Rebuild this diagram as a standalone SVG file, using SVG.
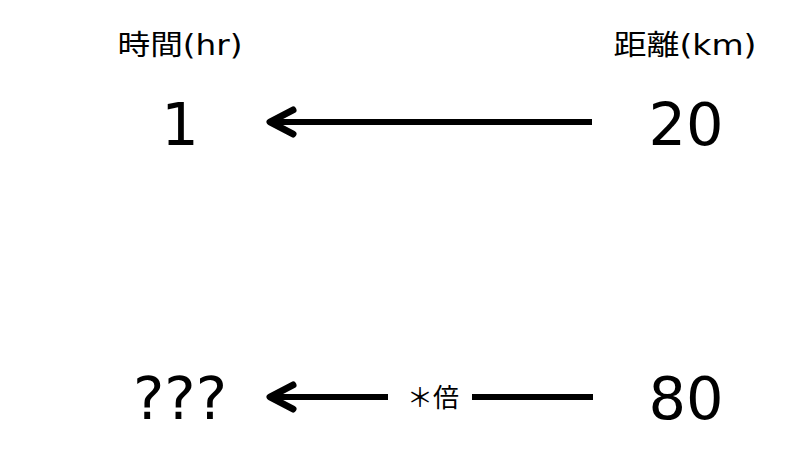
<svg xmlns="http://www.w3.org/2000/svg" width="800" height="450" viewBox="0 0 800 450">
<style>
text{font-family:"DejaVu Sans","Noto Sans CJK JP",sans-serif;fill:#000;text-anchor:middle}
.h{font-size:28px}
.n{font-size:59px}
.l{font-size:26px;font-family:"Noto Sans CJK JP",sans-serif}
.ln{stroke:#000;stroke-width:6;fill:none}
.hd{stroke:#000;stroke-width:7;fill:none;stroke-linecap:round;stroke-linejoin:round}
</style>
<rect width="800" height="450" fill="#fff"/>
<g id="hdr-time"><text class="h" x="180" y="55" textLength="125" lengthAdjust="spacingAndGlyphs">時間(hr)</text></g>
<g id="hdr-dist"><text class="h" x="685" y="55" textLength="143" lengthAdjust="spacingAndGlyphs">距離(km)</text></g>
<g id="n1"><text class="n" x="180" y="145">1</text></g>
<g id="n20"><text class="n" x="686" y="145">20</text></g>
<g id="nq"><text class="n" x="180" y="419">???</text></g>
<g id="n80"><text class="n" x="686" y="419">80</text></g>
<g id="connectors">
<line class="ln" x1="592" y1="122" x2="272" y2="122"/>
<polyline class="hd" points="293,110 270,122 293,134"/>
<line class="ln" x1="388" y1="397" x2="272" y2="397"/>
<polyline class="hd" points="293,385 270,397 293,409"/>
<line class="ln" x1="472" y1="397" x2="593" y2="397"/>
<text class="l" x="433" y="407">＊倍</text>
</g>
</svg>
